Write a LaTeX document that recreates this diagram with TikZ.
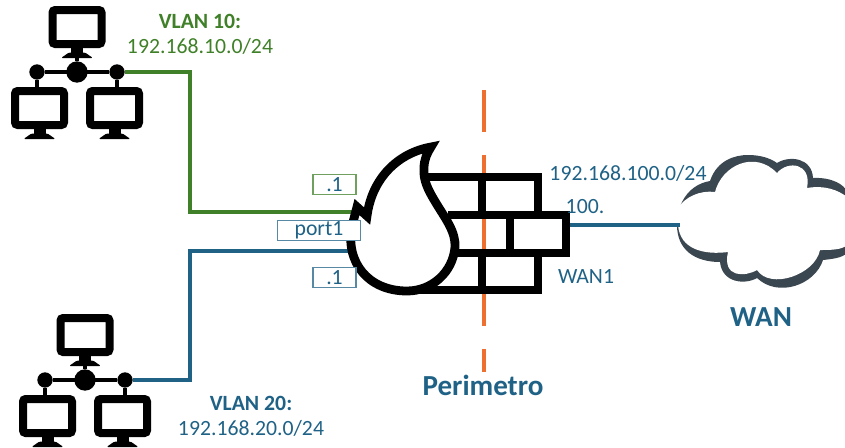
\documentclass[tikz,border=0pt]{standalone}
\usepackage{fontspec}
\setmainfont{Carlito}
\usetikzlibrary{positioning,calc}
\definecolor{lanblue}  {HTML}{1F6286}
\definecolor{langreen} {HTML}{3F8028}
\definecolor{orangeline}{HTML}{ED7030}
\definecolor{cloudink} {HTML}{3A4650}
\tikzset{
  % --- text
  lbl/.style    = {font=\fontsize{16.3}{18}\selectfont, inner sep=0pt},
  head/.style   = {lbl, font=\fontsize{16.3}{18}\selectfont\bfseries},
  bighead/.style= {lbl, font=\fontsize{21.8}{24}\selectfont\bfseries, text=lanblue},
  portbox/.style= {draw=#1!75, line width=1.1pt, fill=white, text=lanblue, inner sep=0pt,
                   font=\fontsize{16.3}{18}\selectfont, minimum height=15pt},
  % --- edges
  wire/.style   = {line width=3pt, draw=#1, line join=miter},
  brick/.style  = {line width=6.4pt, draw=black, miter limit=10},
  % --- icon parts
  dot/.style    = {circle, fill=black, inner sep=0pt, minimum size=#1},
  pics/monitor/.style = {code={
    \draw[line width=6pt, rounded corners=2pt] (-24.5,-17) rectangle (24.5,17);
    \fill (-6,20) rectangle (6,27);
    \fill[rounded corners=1pt] (-16,31) -- (-8,25.5) -- (8,25.5) -- (16,31) -- cycle;
  }},
  pics/lanicon/.style = {code={
    \node[dot=16pt] (-hub)   at (0,0) {};
    \node[dot=11.5pt] (-left)  at (-40,0) {};
    \node[dot=11.5pt] (-right) at (40,0) {};
    \draw[line width=3pt] (-left) -- (-right);
    \draw[line width=3pt] (-hub) -- (0,-16);
    \draw[line width=3pt] (-left) -- (-40,17);
    \draw[line width=3pt] (-right) -- (40,17);
    \pic at (0,-45) {monitor};
    \pic at (-37.5,36) {monitor};
    \pic at (37.5,36) {monitor};
  }},
}
\begin{document}
\begin{tikzpicture}[x=0.75pt,y=-0.75pt]
  \useasboundingbox (0,0) rectangle (845,447);

  % perimeter line goes under everything
  \coordinate (perimtop) at (484,90);
  \coordinate (perimend) at (484,372);
  \draw[orangeline, line width=3.4pt, dash pattern=on 31.5pt off 17pt] (perimtop) -- (perimend);

  \coordinate (greenbend) at (190,212);
  \coordinate (fwgreen)   at (352,212);
  \coordinate (bluebend)  at (190,251);
  \coordinate (fwblue)    at (352,251);
  \coordinate (fwwan)     at (570,225);
  \coordinate (cloudin)   at (680,225);

  \pic (lanA) at (77,72) {lanicon};
  \pic (lanB) at (85,380) {lanicon};

  \draw[wire=langreen] (lanA-right) -| (greenbend) -- (fwgreen);
  \draw[wire=lanblue]  (lanB-right) -| (bluebend) -- (fwblue);

  % bricks
  \draw[brick] (425,177) -- (538,177) -- (538,215);
  \draw[brick] (448,215) -- (566,215) -- (566,253) -- (455,253);
  \draw[brick] (538,253) -- (538,290) -- (400,290);
  \draw[brick] (482,177) -- (482,215);
  \draw[brick] (510,215) -- (510,253);
  \draw[brick] (482,253) -- (482,290);

  % flame
  \draw[line width=6.6pt, miter limit=10, fill=white]
    (431,147) .. controls (398,153) and (372,178) .. (367,216)
    -- (357,207) -- (352,226)
    .. controls (345,262) and (368,291) .. (407,291)
    .. controls (432,291) and (453,272) .. (455,247)
    .. controls (456,232) and (445,218) .. (436,203)
    .. controls (428,190) and (423,180) .. (424,168)
    .. controls (424,160) and (427,153) .. (431,147) -- cycle;

  % cloud
  \fill[cloudink]
    (677,225) .. controls (677,215) and (679,208) .. (682,202)
    .. controls (688,190) and (698,183) .. (710,181)
    .. controls (717,160) and (735,155) .. (748,155)
    .. controls (760,155) and (770,158) .. (777,163)
    .. controls (790,155) and (812,158) .. (813,178)
    .. controls (832,177) and (845,185) .. (847,192)
    -- (847,253) .. controls (842,258) and (832,259) .. (823,260)
    .. controls (815,285) and (778,298) .. (757,278)
    .. controls (745,285) and (722,283) .. (720,262)
    .. controls (695,262) and (677,250) .. (677,225) -- cycle;
  \fill[white]
    (675,225) -- (675,208) -- (678,208) .. controls (685,197) and (700,190) .. (715,192)
    .. controls (722,165) and (755,150) .. (777,173)
    .. controls (788,160) and (812,163) .. (807,188)
    .. controls (825,185) and (838,190) .. (847,197)
    -- (847,245) .. controls (842,250) and (830,250) .. (820,250)
    .. controls (815,275) and (770,290) .. (757,270)
    .. controls (745,277) and (722,278) .. (728,252)
    .. controls (705,255) and (680,250) .. (678,225) -- cycle;
  \draw[wire=lanblue]  (fwwan) -- (cloudin);

  % labels
  \node[portbox=langreen, minimum width=32pt] (boxgreen) at (334.5,184.5) {.1};
  \node[portbox=lanblue, minimum width=62pt] (boxport) at (319,230.5) {port1};
  \node[portbox=lanblue, minimum width=32pt] (boxblue) at (334.5,277.5) {.1};

  \node[head, text=langreen] (vlanA) at (200,21) {VLAN 10:};
  \node[lbl, text=langreen]  (netA)  at (200,46) {192.168.10.0/24};
  \node[head, text=lanblue]  (vlanB) at (251,403) {VLAN 20:};
  \node[lbl, text=lanblue]   (netB)  at (251,428) {192.168.20.0/24};
  \node[lbl, text=lanblue]   (netwan) at (628,173) {192.168.100.0/24};
  \node[lbl, text=lanblue]   (hostwan) at (585,207) {100.};
  \node[lbl, text=lanblue]   (portwan) at (586,276) {WAN1};
  \node[bighead] (wanlabel) at (761,317) {WAN};
  \node[bighead] (perim)    at (483,385) {Perimetro};
\end{tikzpicture}
\end{document}
